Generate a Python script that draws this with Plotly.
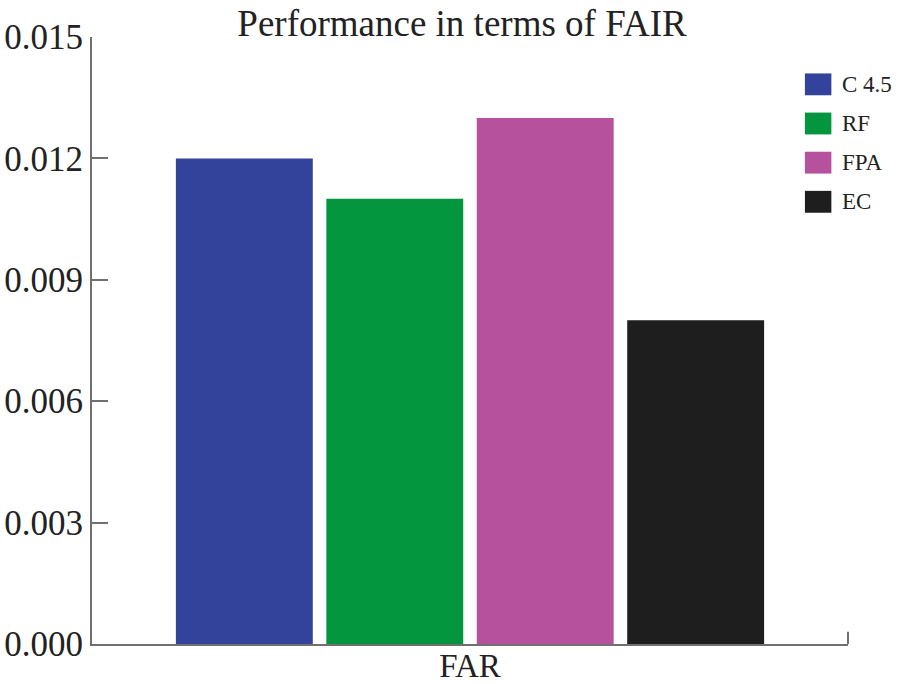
import plotly.graph_objects as go

CATEGORIES = ["FAR"]
METHODS = ["C 4.5", "RF", "FPA", "EC"]
VALUES = [0.012, 0.011, 0.013, 0.008]
COLORS = ["#33439b", "#04953f", "#b5519d", "#1e1e1e"]
Y_TICKS = [0.000, 0.003, 0.006, 0.009, 0.012, 0.015]

SERIF = "Liberation Serif, Times New Roman, serif"
AXIS = "#707070"

fig = go.Figure()
for name, val, col in zip(METHODS, VALUES, COLORS):
    fig.add_trace(go.Bar(x=CATEGORIES, y=[val], name=name, marker=dict(color=col, line_width=0)))

# hand-drawn legend: big squares like the original figure
for i, (name, col) in enumerate(zip(METHODS, COLORS)):
    yc = 0.922 - i * 0.0645
    fig.add_shape(type="rect", xref="paper", yref="paper",
                  x0=0.943, x1=0.978, y0=yc - 0.018, y1=yc + 0.018,
                  fillcolor=col, line_width=0)
    fig.add_annotation(text=name, xref="paper", yref="paper", x=0.990, y=yc,
                       xanchor="left", yanchor="middle", showarrow=False,
                       font=dict(family=SERIF, size=23, color="#222"))

# small end tick on the right of the x axis
fig.add_shape(type="line", xref="paper", yref="paper", x0=1, x1=1, y0=0, y1=0.02,
              line=dict(color=AXIS, width=2))

fig.update_layout(
    width=905, height=684,
    margin=dict(l=92, r=57, t=37, b=40),
    paper_bgcolor="white", plot_bgcolor="white",
    barmode="group", bargap=0.204, bargroupgap=0.09,
    title=dict(text="Performance in terms of FAIR", x=0.5105, xanchor="center",
               y=0.966, yanchor="middle", font=dict(family=SERIF, size=37, color="#222")),
    font=dict(family=SERIF, color="#222"),
    showlegend=False,
)
fig.update_yaxes(
    range=[0, 0.015], tickvals=Y_TICKS, tickformat=".3f", automargin=False,
    ticks="inside", ticklen=16, tickwidth=2, tickcolor=AXIS,
    showline=True, linecolor=AXIS, linewidth=2, showgrid=False, zeroline=False,
    tickfont=dict(size=35, family=SERIF, color="#222"),
)
fig.update_xaxes(
    range=[-0.5, 0.5], showline=True, linecolor=AXIS, linewidth=2, showgrid=False,
    ticks="", automargin=False, ticklabelstandoff=-9,
    tickfont=dict(size=33, family=SERIF, color="#222"),
)
# page body has a default 8px margin; drop it so the figure fills the window
fig.write_html("out.html", config={"displayModeBar": False},
               post_script="document.body.style.margin='0';")
